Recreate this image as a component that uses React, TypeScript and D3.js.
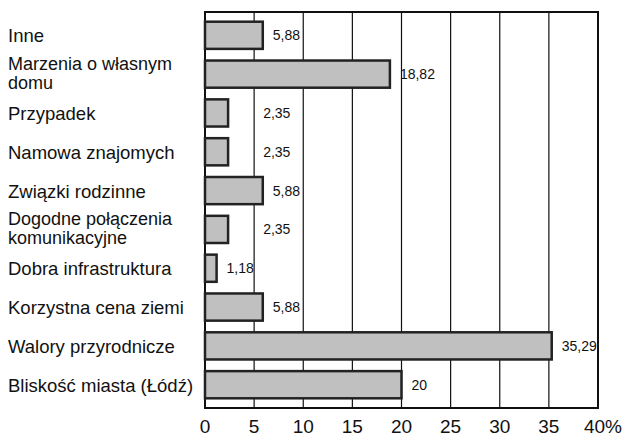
import React from "react";
import * as d3 from "d3";

const categories = [
  "Inne",
  "Marzenia o własnym\ndomu",
  "Przypadek",
  "Namowa znajomych",
  "Związki rodzinne",
  "Dogodne połączenia\nkomunikacyjne",
  "Dobra infrastruktura",
  "Korzystna cena ziemi",
  "Walory przyrodnicze",
  "Bliskość miasta (Łódź)",
];
const values = [5.88, 18.82, 2.35, 2.35, 5.88, 2.35, 1.18, 5.88, 35.29, 20];
const valueLabels = ["5,88", "18,82", "2,35", "2,35", "5,88", "2,35", "1,18", "5,88", "35,29", "20"];
const ticks = [0, 5, 10, 15, 20, 25, 30, 35, 40];

const W = 623;
const H = 438;
const M = { left: 205, right: 598, top: 12, bottom: 408 };
const FONT = "Arial, 'Liberation Sans', Helvetica, sans-serif";

export default function App() {
  const x = d3.scaleLinear().domain([0, 40]).range([M.left, M.right]);
  const y = d3
    .scaleBand<string>()
    .domain(categories)
    .range([M.top, M.bottom])
    .paddingInner(0.3)
    .paddingOuter(0.25);
  const bw = y.bandwidth();

  return (
    <svg
      width={W}
      height={H}
      style={{ position: "absolute", left: 0, top: 0, background: "#fff" }}
      fontFamily={FONT}
    >
      <rect x={0} y={0} width={W} height={H} fill="#fff" />
      {ticks.slice(1, -1).map((t) => (
        <line key={t} x1={x(t)} x2={x(t)} y1={M.top} y2={M.bottom} stroke="#111" strokeWidth={1.2} />
      ))}
      <rect
        x={M.left}
        y={M.top}
        width={M.right - M.left}
        height={M.bottom - M.top}
        fill="none"
        stroke="#111"
        strokeWidth={2}
      />
      {categories.map((c, i) => {
        const y0 = y(c)!;
        const cy = y0 + bw / 2;
        const v = values[i];
        const lx = v >= 2 && v < 5 ? x(5) + 9 : x(v) + 10;
        const lines = c.split("\n");
        return (
          <g key={c}>
            <rect
              x={x(0)}
              y={y0}
              width={x(v) - x(0)}
              height={bw}
              fill="#c0c0c0"
              stroke="#222"
              strokeWidth={2.5}
            />
            <text x={lx} y={cy + 5} fontSize={14} fill="#111">
              {valueLabels[i]}
            </text>
            {lines.length === 1 ? (
              <text x={8} y={cy + 7} fontSize={18.5} fill="#111">
                {c}
              </text>
            ) : (
              <text x={8} y={cy - 4} fontSize={18} fill="#111">
                {lines.map((l, j) => (
                  <tspan key={j} x={8} dy={j === 0 ? 0 : 18.5}>
                    {l}
                  </tspan>
                ))}
              </text>
            )}
          </g>
        );
      })}
      {ticks.slice(0, -1).map((t) => (
        <text key={t} x={x(t)} y={433} fontSize={19} textAnchor="middle" fill="#111">
          {t}
        </text>
      ))}
      <text x={622} y={433} fontSize={19} textAnchor="end" fill="#111">
        {ticks[ticks.length - 1]}%
      </text>
    </svg>
  );
}
